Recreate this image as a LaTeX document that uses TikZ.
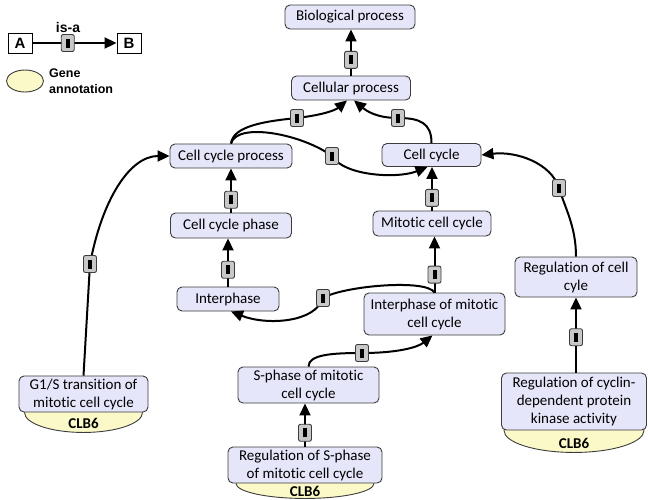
\documentclass[tikz,border=0pt]{standalone}
\usepackage{fontspec}
\setmainfont[Ligatures={NoCommon}]{Carlito}
\newfontfamily\arialfont{Liberation Sans}
\usetikzlibrary{arrows.meta,shapes.geometric}
\definecolor{lav}{RGB}{230,230,250}
\definecolor{gannot}{RGB}{252,249,200}
\definecolor{mgray}{RGB}{200,200,200}
\definecolor{bord}{RGB}{60,60,60}
\newcommand\isabar{\rule{4pt}{9pt}}
\pgfdeclarelayer{bg}
\pgfsetlayers{bg,main}
\tikzset{
 gobox/.style={rectangle, rounded corners=5pt, draw=bord, line width=0.9pt, fill=lav, align=center, inner sep=0pt, font=\fontsize{15}{18}\selectfont},
 edge/.style={line width=2pt, -{Triangle[length=12pt,width=11pt]}},
 isa/.style={rectangle, rounded corners=2pt, draw=bord, line width=0.9pt, fill=mgray, minimum width=13pt, minimum height=17pt, inner sep=0pt},
 annot/.style={draw=bord, line width=0.9pt, fill=gannot},
 clb/.style={font=\bfseries\fontsize{15}{15}\selectfont, inner sep=0pt},
 legbox/.style={rectangle, draw=black, line width=0.9pt, fill=white, minimum width=24pt, minimum height=20pt, inner sep=0pt, font=\arialfont\bfseries\fontsize{15}{15}\selectfont},
}
\begin{document}
\begin{tikzpicture}[x=1pt,y=-1pt]
\useasboundingbox (0,0) rectangle (648,499);
% nodes
\node[gobox, minimum width=130pt, minimum height=24pt] (bp) at (350,17) {Biological process};
\node[gobox, minimum width=119pt, minimum height=24pt] (cp) at (351,88) {Cellular process};
\node[gobox, minimum width=122pt, minimum height=24pt] (ccp) at (231,156) {Cell cycle process};
\node[gobox, minimum width=99pt, minimum height=23pt] (cc) at (431.5,155) {Cell cycle};
\node[gobox, minimum width=121pt, minimum height=25pt] (ccph) at (231,225.5) {Cell cycle phase};
\node[gobox, minimum width=118pt, minimum height=25pt] (mcc) at (432,223.5) {Mitotic cell cycle};
\node[gobox, minimum width=102pt, minimum height=24pt] (int) at (228,299) {Interphase};
\node[gobox, minimum width=141pt, minimum height=42pt] (imcc) at (434.5,314) {Interphase of mitotic\\cell cycle};
\node[gobox, minimum width=141pt, minimum height=36pt] (sph) at (308.5,385) {S-phase of mitotic\\cell cycle};
\node[gobox, minimum width=154pt, minimum height=36pt] (rsp) at (305,465) {Regulation of S-phase\\of mitotic cell cycle};
\node[gobox, minimum width=129pt, minimum height=36pt] (g1s) at (83.5,394) {G1/S transition of\\mitotic cell cycle};
\node[gobox, minimum width=122pt, minimum height=40pt] (rcc) at (576,277) {Regulation of cell\\cyle};
\node[gobox, minimum width=145pt, minimum height=57pt] (rcdk) at (574,401.5) {Regulation of cyclin-\\dependent protein\\kinase activity};
% gene annotations
\begin{pgfonlayer}{bg}
\draw[annot] (g1s.south) ellipse [x radius=59pt, y radius=20pt];
\draw[annot] (rcdk.south) ellipse [x radius=70pt, y radius=22pt];
\draw[annot] (rsp.south) ellipse [x radius=69pt, y radius=15pt];
\end{pgfonlayer}
\node[clb] (a1) at ([yshift=-11pt]g1s.south) {CLB6};
\node[clb] (a2) at ([yshift=-12.5pt]rcdk.south) {CLB6};
\node[clb] (a3) at ([yshift=-7.5pt]rsp.south) {CLB6};
% waypoints
\coordinate (w2) at (297,118);
\coordinate (w3) at (398,118);
\coordinate (w4) at (332,156);
\coordinate (w9) at (323,298);
\coordinate (w10) at (362,353);
\coordinate (w12) at (90,264);
\coordinate (w14) at (559,188);
% straight edges
\draw[edge] (cp.north) -- node[isa,pos=0.34]{\isabar} (cp.north |- bp.south);
\draw[edge] (ccph.north) -- node[isa,pos=0.29]{\isabar} (ccp.south);
\draw[edge] (int.north) -- node[isa,pos=0.35]{\isabar} (int.north |- ccph.south);
\draw[edge] (mcc.north) -- node[isa,pos=0.29]{\isabar} (mcc.north |- cc.south);
\draw[edge] (imcc.north) -- node[isa,pos=0.32]{\isabar} (imcc.north |- mcc.south);
\draw[edge] (rsp.north) -- node[isa,pos=0.32]{\isabar} (rsp.north |- sph.south);
\draw[edge] (rcdk.north -| rcc.south) -- node[isa,pos=0.47]{\isabar} (rcc.south);
% curved edges
\draw[edge] (ccp.north) .. controls +(2,-18) and +(-30,3) .. (w2) node[isa]{\isabar} .. controls +(25,-3) and +(-12,10) .. ([xshift=-4pt]cp.south);
\draw[edge] (cc.north) .. controls +(0,-20) and +(22,0) .. (w3) node[isa]{\isabar} .. controls +(-22,0) and +(12,10) .. ([xshift=3pt]cp.south);
\draw[edge] (ccp.north) .. controls +(6,-22) and +(-30,-22) .. (w4) node[isa]{\isabar} .. controls +(12,20) and +(-30,12) .. ([xshift=-4pt]cc.south);
\draw[edge] (imcc.north) .. controls +(-8,-14) and +(20,-12) .. (w9) node[isa]{\isabar} .. controls +(-8,25) and +(35,14) .. ([xshift=3pt]int.south);
\draw[edge] (sph.north) .. controls +(0,-12) and +(-30,0) .. (w10) node[isa]{\isabar} .. controls +(35,0) and +(-15,12) .. ([xshift=-2pt]imcc.south);
\draw[edge] (g1s.north) -- (w12) node[isa]{\isabar} .. controls +(12,-64) and +(-40,0) .. (ccp.west);
\draw[edge] (rcc.north) .. controls +(0,-30) and +(6,20) .. (w14) node[isa]{\isabar} .. controls +(-8,-25) and +(35,-4) .. (cc.east);
% legend
\node[legbox] (la) at (20,43) {A};
\node[legbox] (lb) at (129,43) {B};
\draw[edge] (la) -- node[isa,pos=0.42]{\isabar} (lb);
\node[font=\arialfont\bfseries\fontsize{14}{14}\selectfont, inner sep=0pt] (isatxt) at (68,27) {is-a};
\node[annot, ellipse, minimum width=37pt, minimum height=22pt, inner sep=0pt] (lg) at (25,81) {};
\node[anchor=west, align=left, inner sep=0pt, font=\arialfont\bfseries\fontsize{12.5}{16}\selectfont] (lgt) at (49,81) {Gene\\annotation};
\end{tikzpicture}
\end{document}
